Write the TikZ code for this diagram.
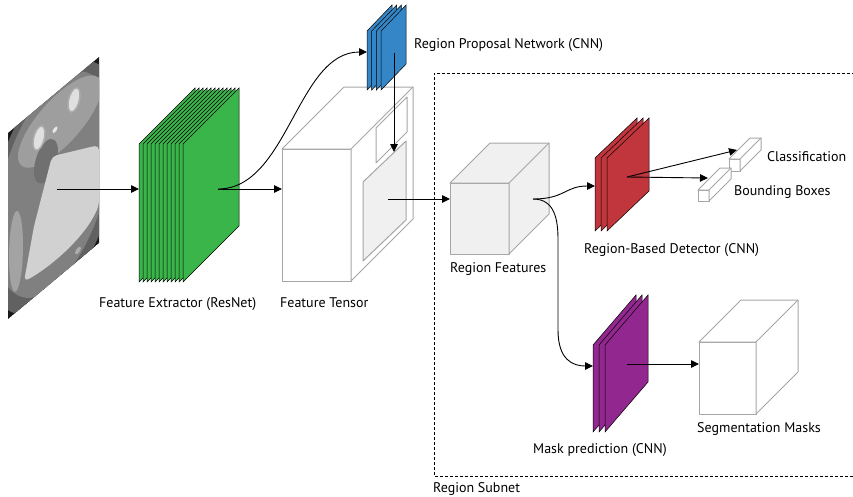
\documentclass[tikz,border=0pt]{standalone}
\usepackage{fontspec}
\setmainfont{PT Sans}
\usetikzlibrary{arrows.meta}
\definecolor{extgreen}{RGB}{58,181,74}
\definecolor{rpnblue}{RGB}{53,134,199}
\definecolor{detred}{RGB}{193,53,61}
\definecolor{maskpurple}{RGB}{146,39,143}
\definecolor{boxgray}{RGB}{166,166,166}
\definecolor{featgray}{RGB}{240,240,240}

\tikzset{
  lbl/.style={inner sep=0pt, anchor=base west, font=\fontsize{14}{17}\selectfont},
  flow/.style={-{Triangle[length=8pt,width=7.5pt]}, line width=0.9pt},
  sheet/.style={draw=black, line width=0.5pt},
  boxline/.style={draw=boxgray, line width=1pt, line join=round},
  face/.style={boxline, inner sep=0pt, outer sep=0pt, anchor=north west},
}

% stack of sheets: x, y (top left of first sheet), width, rise, height, count, step, colour
\newcommand\sheetstack[8]{%
  \foreach \k in {1,...,#6}
    \filldraw[sheet, fill=#8] ({#1+(\k-1)*#7},#2) -- ++(#3,-#4) -- ++(0,#5) -- ++(-#3,#4) -- cycle;}

% top and right faces of a box whose front face is node #1
\newcommand\boxsides[3]{%
  \filldraw[boxline, fill=#3] (#1.north west) -- ([shift={(#2,-#2)}]#1.north west)
    -- ([shift={(#2,-#2)}]#1.north east) -- ([shift={(#2,-#2)}]#1.south east)
    -- (#1.south east) -- (#1.north east) -- cycle;
  \draw[boxline] (#1.north east) -- ([shift={(#2,-#2)}]#1.north east);}

\begin{document}
\begin{tikzpicture}[x=1pt, y=-1pt]
  \useasboundingbox (0,0) rectangle (853,496);
  \clip (0,0) rectangle (853,496);

  % input slice
  \begin{scope}[shift={(8,133)}, yslant=0.835]
    \clip (0,0) rectangle (91,186);
    \fill[black!90] (0,0) rectangle (91,186);
    \fill[black!62] (46,93) ellipse [x radius=68, y radius=114];
    \fill[black!50] (46,90) ellipse [x radius=59, y radius=102];
    \fill[black!38] (52,32) ellipse [x radius=42, y radius=30];
    \fill[black!56] (38,60) ellipse [x radius=12, y radius=20];
    \fill[black!36] (8,125) ellipse [x radius=7, y radius=40];
    \fill[black!18, rounded corners=5pt] (44,60) -- (91,88) -- (91,148)
      .. controls (78,168) and (45,170) .. (16,162) -- (26,115) -- cycle;
    \filldraw[black!12, draw=black!32, line width=1.5pt] (66,22) ellipse [x radius=6, y radius=11];
    \filldraw[black!12, draw=black!32, line width=1.5pt] (31,31) ellipse [x radius=6, y radius=11];
    \fill[black!10] (47,36) circle (2.5);
    \fill[black!32] (70,176) circle (3);
  \end{scope}

  % region subnet frame
  \draw[line width=0.9pt, dash pattern=on 3pt off 2pt] (870,73) -| (434,476) -- (870,476);

  % feature tensor
  \node[face, fill=white, minimum width=69pt, minimum height=132pt] (tensor) at (282,149) {};
  \boxsides{tensor}{62}{white}
  \filldraw[boxline, fill=white] (376,128) -- (407,97) -- (407,132) -- (376,163) -- cycle;
  \filldraw[boxline, fill=featgray] (363,182) -- (406,141) -- (406,220) -- (363,261) -- cycle;

  % region features, segmentation masks, output bars
  \node[face, fill=featgray, minimum width=59pt, minimum height=71pt] (rf) at (450,183) {};
  \boxsides{rf}{40}{featgray}
  \node[face, fill=white, minimum width=57pt, minimum height=72pt] (seg) at (699,342) {};
  \boxsides{seg}{42}{white}
  \node[face, fill=white, minimum width=11pt, minimum height=12pt] (cls) at (729,159) {};
  \boxsides{cls}{21}{white}
  \node[face, fill=white, minimum width=11pt, minimum height=11pt] (bb) at (698,190) {};
  \boxsides{bb}{22}{white}

  % sheet stacks
  \sheetstack{139}{144}{56}{56}{138}{12}{4}{extgreen}
  \sheetstack{367}{31}{25}{26}{59}{4}{4.7}{rpnblue}
  \sheetstack{595}{158}{42}{40}{73}{3}{6}{detred}
  \sheetstack{593}{345}{43}{50}{87}{3}{6}{maskpurple}

  \coordinate (img-out) at (57,189);
  \coordinate (ext-in) at (139,189);
  \coordinate (ext-out) at (218,189);
  \coordinate (rpn-in) at (367,52);
  \coordinate (rpn-out) at (394,53);
  \coordinate (patch-top) at (394,152);
  \coordinate (patch-out) at (388,199);
  \coordinate (rf-out) at (533,199);
  \coordinate (det-in) at (595,186);
  \coordinate (det-out) at (627,177);
  \coordinate (cls-in) at (737,150);
  \coordinate (bb-in) at (708,178);
  \coordinate (mask-in) at (593,366);
  \coordinate (mask-out) at (627,364);

  \draw (img-out) edge[flow] (ext-in);
  \draw (ext-out) edge[flow] (ext-out -| tensor.west);
  \draw[flow] (ext-out) .. controls +(70,0) and +(-70,0) .. (rpn-in);
  \draw (rpn-out) edge[flow] (patch-top);
  \draw (patch-out) edge[flow] (patch-out -| rf.west);
  \draw[flow] (rf-out) .. controls +(32,0) and +(-30,0) .. (det-in);
  \draw[flow] (rf-out) .. controls +(22,0) and +(0,-20) .. (558,240) -- (558,330)
    .. controls +(0,30) and +(-20,0) .. (mask-in);
  \draw (det-out) edge[flow] (cls-in);
  \draw (det-out) edge[flow] (bb-in);
  \draw (mask-out) edge[flow] (mask-out -| seg.west);

  \node[lbl] (rpn-lbl) at (414,48) {Region Proposal Network (CNN)};
  \node[lbl] (ext-lbl) at (99,307) {Feature Extractor (ResNet)};
  \node[lbl] (tensor-lbl) at (280,307) {Feature Tensor};
  \node[lbl] (rf-lbl) at (450,272) {Region Features};
  \node[lbl] (det-lbl) at (584,253) {Region-Based Detector (CNN)};
  \node[lbl] (cls-lbl) at (767,161) {Classification};
  \node[lbl] (bb-lbl) at (734,195) {Bounding Boxes};
  \node[lbl] (mask-lbl) at (533,453) {Mask prediction (CNN)};
  \node[lbl] (seg-lbl) at (697,432) {Segmentation Masks};
  \node[lbl] (sub-lbl) at (433,492) {Region Subnet};
\end{tikzpicture}
\end{document}
